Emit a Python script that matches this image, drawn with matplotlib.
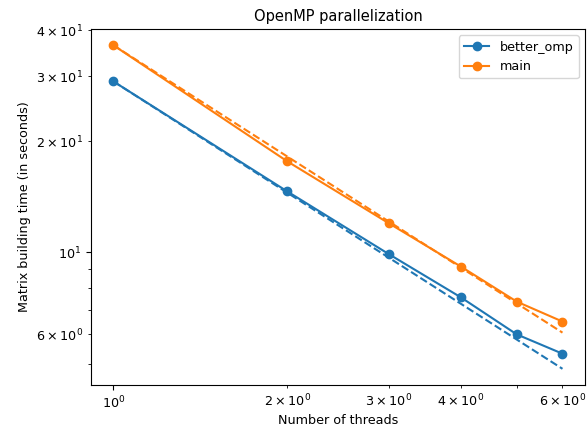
import numpy as np
import matplotlib.pyplot as plt

threads = [1, 2, 3, 4, 5, 6]
better_omp = [29.05, 14.64, 9.90, 7.56, 6.00, 5.32]
main = [36.4, 17.66, 12.0, 9.16, 7.36, 6.50]

plt.rcParams['font.size'] = 9.2

fig = plt.figure(figsize=(5.87, 4.28), dpi=100)
ax = fig.add_axes([0.155, 0.1005, 0.8415, 0.8315])

t = np.array(threads)
l1, = ax.plot(threads, better_omp, marker='o', label='better_omp')
l2, = ax.plot(threads, main, marker='o', label='main')
# ideal scaling from the single-thread time
ax.plot(threads, better_omp[0] / t, '--', color=l1.get_color())
ax.plot(threads, main[0] / t, '--', color=l2.get_color())

ax.set_xscale('log')
ax.set_yscale('log')
ax.set_title('OpenMP parallelization', fontsize=10.5)
ax.set_xlabel('Number of threads', labelpad=2)
ax.set_ylabel('Matrix building time (in seconds)')
ax.legend(loc='upper right')

fig.savefig('out.png', dpi=100)
